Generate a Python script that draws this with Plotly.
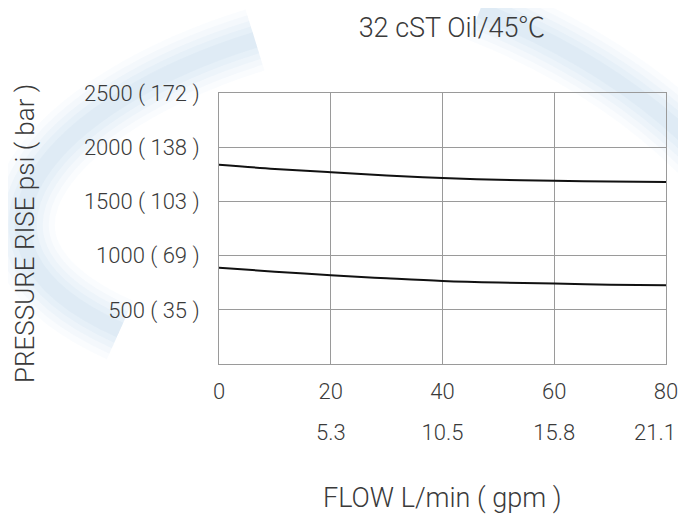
import plotly.graph_objects as go

# ---- data ----
flow_lpm = [0, 10, 20, 30, 40, 50, 60, 70, 80]
upper_psi = [1838, 1800, 1770, 1739, 1715, 1699, 1690, 1683, 1678]
lower_psi = [889, 852, 819, 791, 766, 751, 742, 732, 727]

x_ticks = [0, 20, 40, 60, 80]
x_tick_text = ["0", "20", "40", "60", "80"]
gpm_ticks = [20, 40, 60, 80]
gpm_tick_text = ["5.3", "10.5", "15.8", "21.1"]
y_ticks = [500, 1000, 1500, 2000, 2500]
y_tick_text = ["500 ( 35 )", "1000 ( 69 )", "1500 ( 103 )", "2000 ( 138 )", "2500 ( 172 )"]

title_text = "32 cST Oil/45℃"
x_title = "FLOW L/min ( gpm )"
y_title = "PRESSURE RISE psi ( bar )"

FONT = "Roboto, Noto Sans CJK JP, DejaVu Sans Condensed, sans-serif"
TXT = "#3a3a3a"
GRID = "#9a9a9a"

# page offset (body margin) compensation
W, H = 678, 512
PL, PR, PT, PB = 219, 666, 93, 364   # plot area in page pixels
OFF = 8


def px(x, y):
    """page pixel -> paper coordinates (for the background watermark only)"""
    return (x - PL) / (PR - PL), (PB - y) / (PB - PT)


def path(pts):
    (x0, y0), rest = px(*pts[0]), pts[1:]
    s = f"M {x0:.4f},{y0:.4f} C"
    for p in rest:
        a, b = px(*p)
        s += f" {a:.4f},{b:.4f}"
    return s


swoosh1 = path([(255, 40), (60, 100), (-80, 240), (120, 330),
                (250, 395), (450, 440), (700, 452)])
swoosh2 = path([(480, 10), (580, 50), (650, 100), (700, 150)])

shapes = []
for w, a in ((64, 0.06), (52, 0.07), (40, 0.08), (28, 0.09), (16, 0.10)):
    for pth in (swoosh1, swoosh2):
        shapes.append(dict(type="path", path=pth, xref="paper", yref="paper",
                           layer="below",
                           line=dict(color=f"rgba(170,200,230,{a})", width=w)))

fig = go.Figure()
for ys in (upper_psi, lower_psi):
    fig.add_trace(go.Scatter(x=flow_lpm, y=ys, mode="lines",
                             line=dict(color="#111111", width=2, shape="spline"),
                             showlegend=False, hoverinfo="skip"))
# invisible holders for the two gpm label axes
for ax in ("x2", "x3"):
    fig.add_trace(go.Scatter(x=[None], y=[None], xaxis=ax, mode="lines",
                             showlegend=False, hoverinfo="skip"))

tf = dict(family=FONT, size=22, color=TXT, weight=300)
gpm_axis = dict(range=[0, 80], overlaying="x", side="bottom", anchor="y",
                matches="x", showgrid=False, showline=False, zeroline=False,
                ticks="", ticklabelstandoff=53, automargin=False,
                ticklabeloverflow="allow", tickfont=tf)

fig.update_layout(
    width=W, height=H,
    margin=dict(l=PL - OFF, r=W - (PR - OFF), t=PT - OFF, b=H - (PB - OFF)),
    paper_bgcolor="white", plot_bgcolor="white",
    font=dict(family=FONT, color=TXT),
    title=dict(text=title_text, x=(452 - OFF) / W, xref="container", xanchor="center",
               y=1 - (28 - OFF) / H, yref="container", yanchor="middle",
               font=dict(family=FONT, size=27, color=TXT, weight=300)),
    xaxis=dict(range=[0, 80], tickvals=x_ticks, ticktext=x_tick_text,
               showgrid=True, gridcolor=GRID, gridwidth=1,
               showline=True, linecolor=GRID, linewidth=1, mirror=True,
               ticks="", zeroline=False, ticklabelstandoff=8, automargin=False,
               ticklabeloverflow="allow", tickfont=tf),
    # gpm labels except the last one
    xaxis2=dict(gpm_axis, tickvals=gpm_ticks[:-1], ticktext=gpm_tick_text[:-1]),
    # last gpm label, nudged left so it stays inside the page edge
    xaxis3=dict(gpm_axis, tickvals=gpm_ticks[-1:], ticktext=gpm_tick_text[-1:],
                ticklabelshift=-11),
    yaxis=dict(range=[0, 2500], tickvals=y_ticks, ticktext=y_tick_text,
               showgrid=True, gridcolor=GRID, gridwidth=1,
               showline=True, linecolor=GRID, linewidth=1, mirror=True,
               ticks="", zeroline=False, ticklabelstandoff=14, automargin=False,
               tickfont=tf),
    shapes=shapes,
    annotations=[
        dict(text=x_title, xref="paper", yref="paper", x=(442 - PL) / (PR - PL), y=0,
             xanchor="center", yanchor="middle", yshift=-(498 - PB), showarrow=False,
             font=dict(family=FONT, size=27, color=TXT, weight=300)),
        dict(text=y_title, xref="paper", yref="paper", x=0, y=(PB - 234) / (PB - PT),
             xanchor="center", yanchor="middle", xshift=-(PL - 25), textangle=-90,
             showarrow=False, font=dict(family=FONT, size=26, color=TXT, weight=300)),
    ],
)

fig.write_html("out.html")
